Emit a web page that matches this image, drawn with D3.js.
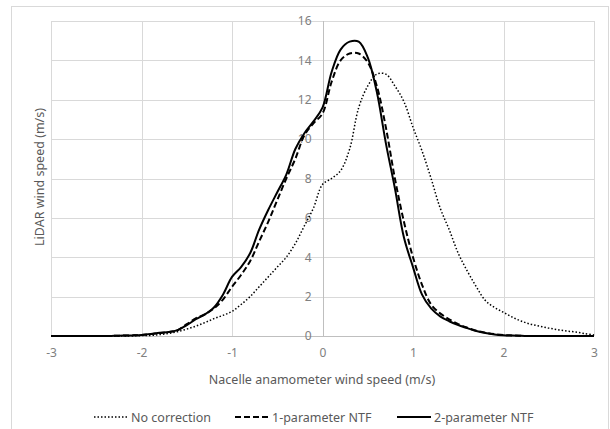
<!DOCTYPE html>
<html>
<head>
<meta charset="utf-8">
<script src="https://cdn.jsdelivr.net/npm/d3@7"></script>
<style>
  body { margin: 0; background: #fff; }
  svg text { font-family: "Noto Sans", "Open Sans", sans-serif; }
</style>
</head>
<body>
<div id="chart"></div>
<script>
// x values (m/s), step 0.1 from -3 to 3
var xValues = d3.range(-30, 31).map(function (i) { return i / 10; });

var noCorrection = [
  0, 0, 0, 0, 0, 0, 0, 0, 0, 0.01,
  0.02, 0.03, 0.07, 0.13, 0.22, 0.35, 0.5, 0.68, 0.88, 1.05,
  1.25, 1.6, 2.0, 2.5, 3.0, 3.5, 4.0, 4.7, 5.6, 6.5,
  7.7, 8.0, 8.4, 9.5, 11.6, 12.7, 13.3, 13.3, 12.7, 11.9,
  10.6, 9.4, 8.0, 6.5, 5.4, 4.2, 3.3, 2.5, 1.8, 1.45,
  1.2, 0.95, 0.75, 0.6, 0.5, 0.4, 0.32, 0.25, 0.2, 0.12,
  0.05
];

var oneParamNTF = [
  0, 0, 0, 0, 0, 0, 0, 0.01, 0.02, 0.03,
  0.05, 0.1, 0.15, 0.2, 0.3, 0.6, 0.9, 1.1, 1.4, 1.85,
  2.5, 3.1, 3.8, 4.8, 5.8, 6.9, 8.0, 9.0, 10.2, 10.8,
  11.3, 12.9, 14.0, 14.35, 14.35, 13.9, 12.7, 10.6, 8.0, 5.8,
  4.0, 2.6, 1.6, 1.15, 0.85, 0.6, 0.42, 0.27, 0.17, 0.1,
  0.05, 0.03, 0.01, 0, 0, 0, 0, 0, 0, 0,
  0
];

var twoParamNTF = [
  0, 0, 0, 0, 0, 0, 0, 0.01, 0.02, 0.03,
  0.05, 0.1, 0.17, 0.2, 0.3, 0.55, 0.85, 1.1, 1.45, 2.1,
  3.0, 3.5, 4.2, 5.4, 6.4, 7.3, 8.2, 9.5, 10.3, 10.9,
  11.6, 13.4, 14.55, 14.95, 14.95, 14.15, 12.4, 9.8, 7.5, 5.0,
  3.5, 2.1, 1.4, 1.0, 0.75, 0.55, 0.4, 0.25, 0.15, 0.08,
  0.04, 0.02, 0.01, 0, 0, 0, 0, 0, 0, 0,
  0
];

var seriesNames = ["No correction", "1-parameter NTF", "2-parameter NTF"];
var xTicks = [-3, -2, -1, 0, 1, 2, 3];
var yTicks = [0, 2, 4, 6, 8, 10, 12, 14, 16];

var w = 610, h = 429;
var plot = { left: 51, right: 594, top: 21, bottom: 336 };

var svg = d3.select("#chart").append("svg")
  .attr("width", w)
  .attr("height", h);

// outer chart border
svg.append("rect")
  .attr("x", 11.5).attr("y", 6.5)
  .attr("width", 597).attr("height", 430)
  .attr("fill", "#fff")
  .attr("stroke", "#d9d9d9");

var xScale = d3.scaleLinear().domain([-3, 3]).range([plot.left, plot.right]);
var yScale = d3.scaleLinear().domain([0, 16]).range([plot.bottom, plot.top]);

// gridlines
svg.append("g").selectAll("line.h")
  .data(yTicks)
  .enter().append("line")
  .attr("x1", plot.left).attr("x2", plot.right)
  .attr("y1", function (d) { return Math.round(yScale(d)) + 0.5; })
  .attr("y2", function (d) { return Math.round(yScale(d)) + 0.5; })
  .attr("stroke", function (d) { return d === 0 ? "#bfbfbf" : "#d9d9d9"; });

svg.append("g").selectAll("line.v")
  .data(xTicks)
  .enter().append("line")
  .attr("y1", plot.top).attr("y2", plot.bottom)
  .attr("x1", function (d) { return Math.round(xScale(d)) + 0.5; })
  .attr("x2", function (d) { return Math.round(xScale(d)) + 0.5; })
  .attr("stroke", function (d) { return d === 0 ? "#bfbfbf" : "#d9d9d9"; });

// x axis labels (plain hyphen like the original)
var xAxis = d3.axisBottom(xScale)
  .tickValues(xTicks)
  .tickSize(0)
  .tickPadding(12)
  .tickFormat(function (d) { return String(d); });

var gx = svg.append("g")
  .attr("transform", "translate(0," + plot.bottom + ")")
  .call(xAxis);
gx.select(".domain").remove();
gx.selectAll("text").attr("fill", "#808080").attr("font-size", 12);

// y axis labels sit on the x = 0 line
var yAxis = d3.axisLeft(yScale)
  .tickValues(yTicks)
  .tickSize(0)
  .tickPadding(11);

var gy = svg.append("g")
  .attr("transform", "translate(" + xScale(0) + ",0)")
  .call(yAxis);
gy.select(".domain").remove();
gy.selectAll("text").attr("fill", "#808080").attr("font-size", 12);

// lines
var styles = [
  { data: noCorrection, width: 1.5, dash: "1.5,2" },
  { data: oneParamNTF, width: 2, dash: "6,3" },
  { data: twoParamNTF, width: 2, dash: null }
];

var line = d3.line()
  .x(function (d, i) { return xScale(xValues[i]); })
  .y(function (d) { return yScale(d); })
  .curve(d3.curveCatmullRom.alpha(0.5));

styles.forEach(function (s) {
  svg.append("path")
    .datum(s.data)
    .attr("d", line)
    .attr("fill", "none")
    .attr("stroke", "#000")
    .attr("stroke-width", s.width)
    .attr("stroke-dasharray", s.dash);
});

// axis titles
svg.append("text")
  .attr("x", 322).attr("y", 384)
  .attr("text-anchor", "middle")
  .attr("font-size", 12.5)
  .attr("fill", "#595959")
  .text("Nacelle anamometer wind speed (m/s)");

svg.append("text")
  .attr("transform", "translate(44,177) rotate(-90)")
  .attr("text-anchor", "middle")
  .attr("font-size", 12.5)
  .attr("fill", "#595959")
  .text("LiDAR wind speed (m/s)");

// legend
var legendX = [94, 235, 397];
var legend = svg.append("g");
seriesNames.forEach(function (name, i) {
  var g = legend.append("g").attr("transform", "translate(" + legendX[i] + ",417)");
  g.append("line")
    .attr("x1", 0).attr("x2", 34)
    .attr("stroke", "#000")
    .attr("stroke-width", styles[i].width)
    .attr("stroke-dasharray", styles[i].dash);
  g.append("text")
    .attr("x", 37).attr("y", 4.5)
    .attr("font-size", 12.5)
    .attr("fill", "#595959")
    .text(name);
});
</script>
</body>
</html>
